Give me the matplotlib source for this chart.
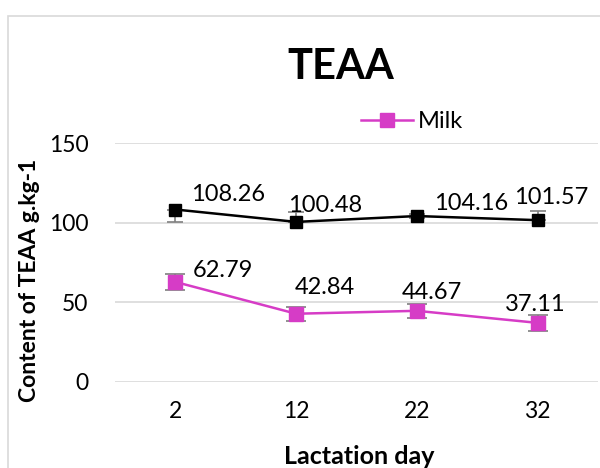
"""TEAA content of milk across lactation days, redrawn as an Excel-like line chart."""

import matplotlib.pyplot as plt
from matplotlib.patches import Rectangle

plt.rcParams['font.family'] = ['Lato', 'DejaVu Sans']

days = ['2', '12', '22', '32']

# Upper series (no legend entry in the original)
teaa_top = [108.26, 100.48, 104.16, 101.57]
top_err_low = [8.0, 0.0, 1.0, 0.0]
top_err_high = [0.0, 6.5, 1.0, 5.5]

# Milk series
teaa_milk = [62.79, 42.84, 44.67, 37.11]
milk_err = [5.0, 4.5, 4.5, 5.0]

# Label offsets in points (dx, dy) for each data label
top_offsets = [(38, 11), (21, 12), (39, 9), (10, 16)]
milk_offsets = [(34, 8), (21, 19), (11, 13), (-2, 13)]

pink = '#D63CC6'
grid_gray = '#D9D9D9'
err_gray = '#7F7F7F'

fig = plt.figure(figsize=(6, 4.68), dpi=100)

# Chart area border (cropped at right and bottom, like the source image)
fig.patches.append(Rectangle((8 / 600, -0.05), 1.1, 1 - 16 / 468 + 0.05,
                             transform=fig.transFigure, fill=False,
                             edgecolor=grid_gray, linewidth=1.2))

ax = fig.add_axes([115 / 600, 1 - 382 / 468, 483 / 600, 239 / 468])
x = list(range(len(days)))

ax.errorbar(x, teaa_top, yerr=[top_err_low, top_err_high], fmt='none',
            ecolor=err_gray, elinewidth=1.2, capsize=6, capthick=1.2, zorder=2)
ax.plot(x, teaa_top, color='black', linewidth=1.8, marker='s', markersize=8,
        zorder=3)

ax.errorbar(x, teaa_milk, yerr=milk_err, fmt='none', ecolor=err_gray,
            elinewidth=1.2, capsize=7, capthick=1.2, zorder=2)
ax.plot(x, teaa_milk, color=pink, linewidth=1.8, marker='s', markersize=10,
        label='Milk', zorder=3)

for xi, val, off in zip(x, teaa_top, top_offsets):
    ax.annotate(f'{val:.2f}', (xi, val), xytext=off, textcoords='offset points',
                ha='center', va='center', fontsize=17, zorder=4)
for xi, val, off in zip(x, teaa_milk, milk_offsets):
    ax.annotate(f'{val:.2f}', (xi, val), xytext=off, textcoords='offset points',
                ha='center', va='center', fontsize=17, zorder=4)

ax.set_xlim(-0.5, 3.5)
ax.set_ylim(0, 150)
ax.set_yticks([0, 50, 100, 150])
ax.set_xticks(x)
ax.set_xticklabels(days)
ax.tick_params(length=0, labelsize=16.5)
ax.tick_params(axis='y', pad=19)
ax.tick_params(axis='x', pad=14)
ax.grid(axis='y', color=grid_gray, linewidth=1.2)
ax.set_axisbelow(True)
for side in ax.spines.values():
    side.set_visible(False)

fig.text(341 / 600, 1 - 67 / 468, 'TEAA', ha='center', va='center',
         fontsize=30, fontweight='bold')
fig.text(30 / 600, 1 - 280 / 468, 'Content of TEAA g.kg-1', rotation=90,
         ha='center', va='center', fontsize=16.5, fontweight='bold')
fig.text(359 / 600, 1 - 456 / 468, 'Lactation day', ha='center', va='center',
         fontsize=18, fontweight='bold')

fig.legend(loc='center', bbox_to_anchor=(412 / 600, 1 - 122 / 468),
           frameon=False, fontsize=17, handlelength=2.2, handletextpad=0.2,
           borderpad=0)

fig.savefig('out.png', dpi=100)
